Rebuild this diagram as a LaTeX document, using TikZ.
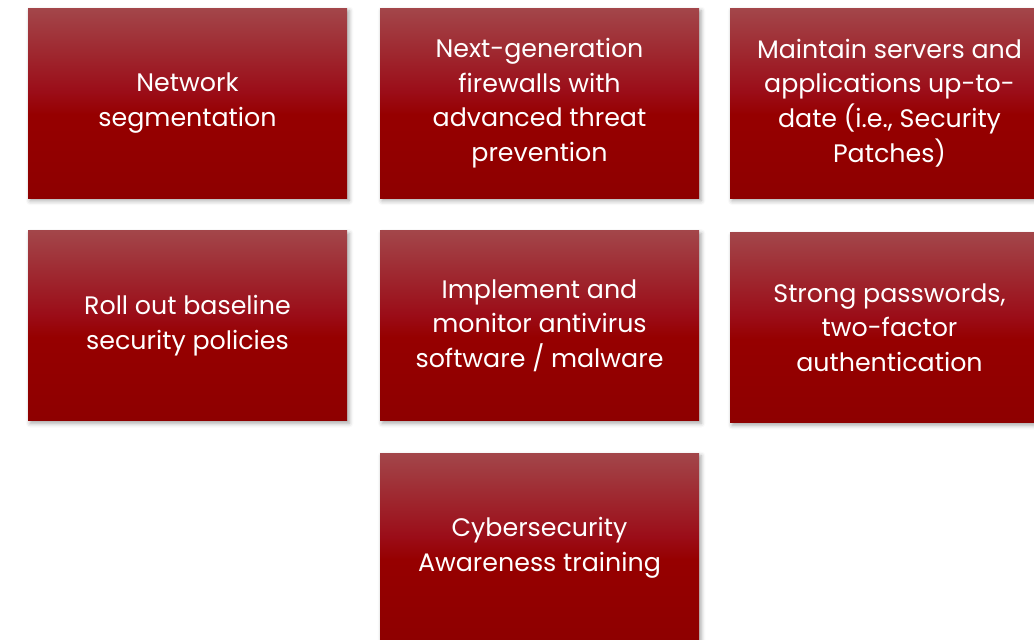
\documentclass[tikz,border=0pt]{standalone}
\usepackage{fontspec}
\setmainfont{Poppins}
\usetikzlibrary{shadows.blur}

\definecolor{tiletop}{HTML}{A3464A}
\definecolor{tilemid}{HTML}{9B0D18}
\definecolor{tilelow}{HTML}{960000}
\definecolor{tilebot}{HTML}{8E0000}

% light band at the top, deep red from the middle down
\pgfdeclareverticalshading{tileshade}{100bp}{%
  color(0bp)=(tilebot); color(25bp)=(tilebot); color(47bp)=(tilelow);
  color(53bp)=(tilemid); color(75bp)=(tiletop); color(100bp)=(tiletop)}

\tikzset{
  tile/.style={rectangle, shading=tileshade, minimum width=319*0.025cm,
    minimum height=190*0.025cm, inner sep=0pt, align=center, text=white,
    font=\fontsize{18}{24.6}\selectfont,
    blur shadow={shadow xshift=1.5pt, shadow yshift=-2pt,
      shadow blur radius=3pt, shadow opacity=35}}
}

\begin{document}
\begin{tikzpicture}[x=0.025cm, y=-0.025cm]
  \useasboundingbox (0,0) rectangle (1034,639);
  \clip (0,0) rectangle (1034,639);

  % first row
  \node[tile] (seg)   at (187.5,103) {Network\\segmentation};
  \node[tile] (ngfw)  at (539.5,103) {Next-generation\\firewalls with\\advanced threat\\prevention};
  \node[tile] (patch) at (889.5,103) {Maintain servers and\\applications up-to-\\date (i.e., Security\\Patches)};

  % second row
  \node[tile] (policy)    at (187.5,325.5) {Roll out baseline\\security policies};
  \node[tile] (antivirus) at (539.5,325.5) {Implement and\\monitor antivirus\\software / malware};
  \node[tile] (passwd)    at (889.5,327.5) {Strong passwords,\\two-factor\\authentication};

  % last one, centred under the middle column
  \node[tile] (training) at (539.5,548) {Cybersecurity\\Awareness training};
\end{tikzpicture}
\end{document}
